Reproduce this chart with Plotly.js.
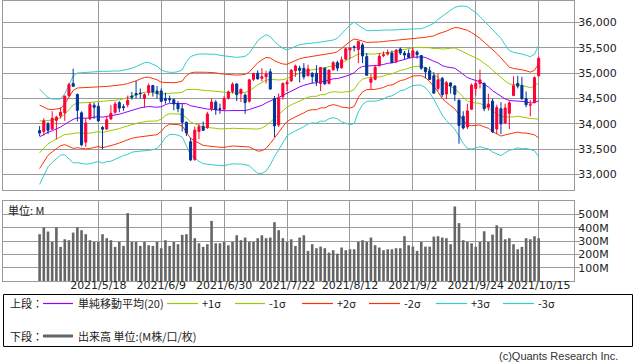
<!DOCTYPE html>
<html><head><meta charset="utf-8">
<script src="https://cdn.plot.ly/plotly-3.0.1.min.js"></script>
<style>html,body{margin:0;padding:0;background:#fff;}#chart{width:638px;height:362px;}</style>
</head><body><div id="chart"></div>
<script>
const dates = ["2021/4/28","2021/4/29","2021/4/30","2021/5/3","2021/5/4","2021/5/5","2021/5/6","2021/5/7","2021/5/10","2021/5/11","2021/5/12","2021/5/13","2021/5/14","2021/5/17","2021/5/18","2021/5/19","2021/5/20","2021/5/21","2021/5/24","2021/5/25","2021/5/26","2021/5/27","2021/5/28","2021/6/1","2021/6/2","2021/6/3","2021/6/4","2021/6/7","2021/6/8","2021/6/9","2021/6/10","2021/6/11","2021/6/14","2021/6/15","2021/6/16","2021/6/17","2021/6/18","2021/6/21","2021/6/22","2021/6/23","2021/6/24","2021/6/25","2021/6/28","2021/6/29","2021/6/30","2021/7/1","2021/7/2","2021/7/6","2021/7/7","2021/7/8","2021/7/9","2021/7/12","2021/7/13","2021/7/14","2021/7/15","2021/7/16","2021/7/19","2021/7/20","2021/7/21","2021/7/22","2021/7/23","2021/7/26","2021/7/27","2021/7/28","2021/7/29","2021/7/30","2021/8/2","2021/8/3","2021/8/4","2021/8/5","2021/8/6","2021/8/9","2021/8/10","2021/8/11","2021/8/12","2021/8/13","2021/8/16","2021/8/17","2021/8/18","2021/8/19","2021/8/20","2021/8/23","2021/8/24","2021/8/25","2021/8/26","2021/8/27","2021/8/30","2021/8/31","2021/9/1","2021/9/2","2021/9/3","2021/9/7","2021/9/8","2021/9/9","2021/9/10","2021/9/13","2021/9/14","2021/9/15","2021/9/16","2021/9/17","2021/9/20","2021/9/21","2021/9/22","2021/9/23","2021/9/24","2021/9/27","2021/9/28","2021/9/29","2021/9/30","2021/10/1","2021/10/4","2021/10/5","2021/10/6","2021/10/7","2021/10/8","2021/10/11","2021/10/12","2021/10/13","2021/10/14","2021/10/15"];

const openP = [33870,33850,34000,33900,34070,34160,34220,34560,34800,34580,34220,33640,34100,34370,34350,33930,33900,34100,34230,34420,34340,34380,34550,34600,34610,34500,34620,34760,34650,34650,34500,34500,34480,34400,34300,34030,33650,33300,33850,33950,33930,34300,34430,34300,34290,34510,34640,34790,34600,34570,34450,34880,35000,34900,34930,35030,34500,33980,34540,34790,34850,35050,35100,35100,34950,35000,35000,34800,35100,34800,35070,35210,35110,35280,35460,35520,35470,35560,35330,34820,34880,35150,35350,35380,35400,35230,35480,35400,35390,35330,35420,35350,35110,35050,34950,34700,34900,34590,34810,34750,34470,34150,33940,34290,34700,34800,34800,34330,34450,33900,34300,34020,34210,34560,34800,34760,34500,34370,34420,34950];
const highP = [33960,34110,34040,34250,34160,34330,34560,34810,35090,34600,34250,34120,34430,34420,34420,33960,34150,34370,34440,34450,34390,34560,34630,34850,34700,34610,34800,34770,34750,34700,34620,34560,34500,34450,34400,34050,33730,33950,34000,34050,34240,34500,34470,34400,34550,34660,34820,34800,34700,34600,34890,35010,35060,35100,35050,35090,34550,34600,34820,34870,35080,35170,35150,35200,35170,35020,35160,35120,35120,35070,35240,35250,35330,35500,35510,35550,35630,35600,35400,34990,35160,35400,35430,35470,35450,35480,35510,35440,35470,35510,35450,35360,35120,35130,35020,35000,34930,34850,34820,34760,34480,34250,34400,34800,34850,35070,34820,34600,34500,34380,34430,34400,34450,34940,34950,34930,34640,34470,34940,35330];
const lowP = [33760,33770,33800,33880,33700,34110,34060,34530,34730,34050,33560,33550,34080,34100,34040,33500,33880,34080,34200,34230,34260,34330,34480,34500,34500,34330,34560,34540,34500,34430,34400,34420,34270,34230,33850,33760,33270,33270,33700,33860,33900,34250,34180,34200,34270,34480,34600,34450,34430,34200,34420,34850,34880,34840,34800,34680,33740,33940,34480,34650,34830,34930,34820,34880,34940,34800,34750,34650,34770,34780,35050,35040,35090,35260,35280,35430,35200,35200,34950,34690,34860,35140,35320,35350,35200,35200,35360,35280,35300,35330,35290,35070,34900,34870,34600,34650,34530,34490,34600,34450,33610,33890,33900,34280,34560,34700,34250,34260,33820,33800,33800,34000,33900,34550,34700,34480,34330,34150,34410,34940];
const closeP = [33820,34060,33875,34113,34133,34230,34549,34778,34743,34269,33588,34021,34382,34328,34061,33896,34084,34208,34394,34312,34323,34465,34529,34575,34600,34577,34756,34630,34600,34447,34466,34480,34394,34299,34034,33823,33290,33877,33946,33874,34197,34434,34283,34292,34503,34634,34786,34577,34682,34422,34870,34996,34889,34933,34987,34688,33962,34512,34798,34823,35062,35144,35059,34931,35085,34935,34838,35116,34793,35064,35209,35102,35265,35485,35500,35515,35625,35343,34961,34894,35120,35336,35366,35406,35213,35456,35400,35361,35313,35444,35369,35100,35031,34879,34608,34870,34578,34814,34751,34585,33970,33920,34258,34765,34798,34869,34300,34391,33844,34326,34003,34315,34417,34755,34746,34496,34378,34378,34913,35295];
const volumeM = [351,401,371,293,403,256,313,306,363,403,381,351,306,293,293,351,321,306,256,293,263,509,293,293,263,293,268,263,293,246,306,263,293,276,346,351,556,321,283,256,276,451,283,283,293,268,293,343,306,326,293,293,321,343,321,326,441,381,321,293,313,263,326,343,226,276,246,258,246,213,231,205,251,231,238,238,293,306,293,326,268,251,231,238,238,246,246,336,268,258,226,293,258,258,333,336,326,321,276,559,434,306,293,283,256,293,373,293,348,418,396,313,321,276,238,256,321,313,336,321];
const sma20 = [33746,33800,33836,33865,33900,33939,33992,34041,34090,34120,34113,34112,34121,34134,34146,34134,34147,34155,34176,34192,34217,34238,34270,34293,34317,34334,34345,34337,34330,34339,34383,34406,34406,34405,34404,34400,34360,34344,34321,34299,34293,34291,34279,34265,34260,34263,34264,34262,34266,34265,34285,34311,34335,34367,34415,34458,34492,34523,34566,34613,34657,34692,34731,34763,34792,34807,34810,34837,34842,34874,34891,34896,34915,34943,34969,35010,35093,35135,35143,35146,35149,35159,35174,35198,35204,35230,35258,35271,35297,35316,35324,35324,35312,35282,35237,35205,35152,35126,35115,35100,35042,34972,34916,34884,34863,34834,34779,34731,34657,34601,34533,34494,34463,34457,34464,34445,34435,34413,34421,34457];
const sigma = [313,268,228,209,198,184,200,243,286,295,300,302,302,300,296,302,297,297,290,284,280,280,276,279,285,292,289,282,271,242,217,205,204,209,221,277,323,339,353,361,363,363,365,363,361,355,350,351,352,357,370,405,436,448,449,422,378,345,309,282,279,278,278,272,264,262,265,260,263,257,255,265,291,308,328,334,285,251,233,232,233,230,227,219,217,210,201,199,191,186,186,186,199,222,250,287,326,353,378,401,427,452,466,460,445,428,418,408,404,396,386,355,328,319,312,312,307,305,318,367];
const tickDates = ["2021/5/18","2021/6/9","2021/6/30","2021/7/22","2021/8/12","2021/9/2","2021/9/24","2021/10/15"];
const priceTicks = [33000,33500,34000,34500,35000,35500,36000];
const volTicks = [100,200,300,400,500];
const volTickText = ["100M","200M","300M","400M","500M"];

const band = k => sma20.map((m,i)=>m + k*sigma[i]);
const XR = [-8.73, 127.42];
const YR = [32696, 36427];
const GRID = '#9a9a9a';
const TF = {family:'DejaVu Sans, sans-serif', size:11, color:'#222'};

function line(y, color, name){
  return {type:'scatter', mode:'lines', x:dates, y:y, name:name, xaxis:'x', yaxis:'y',
          line:{color:color, width:1}, hoverinfo:'skip', showlegend:false};
}
const traces = [
  line(band(3), '#33cccc', '+3σ'), line(band(-3), '#33cccc', '-3σ'),
  line(band(2), '#ff3300', '+2σ'), line(band(-2), '#ff3300', '-2σ'),
  line(band(1), '#99cc00', '+1σ'), line(band(-1), '#99cc00', '-1σ'),
  line(sma20, '#9900ff', 'SMA20'),
  {type:'candlestick', x:dates, open:openP, high:highP, low:lowP, close:closeP,
   xaxis:'x3', yaxis:'y3', whiskerwidth:0, showlegend:false, hoverinfo:'skip',
   increasing:{line:{color:'#ff0033', width:1}, fillcolor:'#ff0033'},
   decreasing:{line:{color:'#003399', width:1}, fillcolor:'#003399'}},
  {type:'bar', x:dates, y:volumeM, xaxis:'x2', yaxis:'y2', marker:{color:'#666666'},
   width:0.62, showlegend:false, hoverinfo:'skip'}
];

const px = X => (X-3)/571;
const py = Y => (281-Y)/280;
const baseX = {type:'category', categoryorder:'array', categoryarray:dates, range:XR,
  tickvals:tickDates, ticktext:tickDates, showgrid:true, gridcolor:GRID, gridwidth:1,
  showline:true, mirror:true, linecolor:GRID, linewidth:1, ticks:'', zeroline:false,
  fixedrange:true, rangeslider:{visible:false}};

const shapes = [
  {type:'rect', xref:'paper', yref:'paper', x0:px(3.5), x1:px(632.5), y0:py(346.5), y1:py(294.5), line:{color:'#000', width:1}},
];
const legLines = [[43,73,'#9900ff'],[167,198,'#99cc00'],[235,265,'#99cc00'],[302,333,'#ff3300'],[369,400,'#ff3300'],[436,467,'#33cccc'],[503,534,'#33cccc']];
legLines.forEach(l=>shapes.push({type:'line', xref:'paper', yref:'paper', x0:px(l[0]), x1:px(l[1]), y0:py(303.5), y1:py(303.5), line:{color:l[2], width:1.2}}));
shapes.push({type:'line', xref:'paper', yref:'paper', x0:px(43), x1:px(73), y0:py(336), y1:py(336), line:{color:'#666666', width:3}});

const JF = {family:'Noto Sans CJK JP, sans-serif', size:11, color:'#222'};
function ann(text, X, Y, font, anchor){
  return {text:text, xref:'paper', yref:'paper', x:px(X), y:py(Y), xanchor:anchor||'left', yanchor:'middle', showarrow:false, font:font||JF};
}
const annotations = [
  ann('単位: M', 6, 210),
  ann('上段：', 8, 303), ann('単純移動平均(20)', 76, 303), ann('+1σ', 200, 303), ann('-1σ', 267, 303),
  ann('+2σ', 335, 303), ann('-2σ', 402, 303), ann('+3σ', 469, 303), ann('-3σ', 536, 303),
  ann('下段：', 8, 336), ann('出来高 単位:(M株/口/枚)', 76, 336),
  ann('(c)Quants Research Inc.', 620, 356, {family:'Liberation Sans, Arial, sans-serif', size:11, color:'#333'}, 'right')
];

const layout = {
  width:638, height:362, margin:{l:3, r:64, t:1, b:81}, paper_bgcolor:'#fff', plot_bgcolor:'#fff',
  showlegend:false, hovermode:false, dragmode:false,
  xaxis: Object.assign({}, baseX, {anchor:'y', domain:[0,1], showticklabels:false}),
  xaxis3: Object.assign({}, baseX, {overlaying:'x', anchor:'y3', visible:false, showgrid:false, showline:false}),
  xaxis2: Object.assign({}, baseX, {anchor:'y2', domain:[0,1], showticklabels:true, tickfont:TF, ticklabelstandoff:-6}),
  yaxis: {domain:[0.325,1], anchor:'x', side:'right', range:YR, tickvals:priceTicks, tickformat:',d',
    ticks:'outside', ticklen:5, tickcolor:GRID, showgrid:true, gridcolor:GRID, showline:true, mirror:true,
    linecolor:GRID, zeroline:false, tickfont:TF, fixedrange:true, ticklabelstandoff:-4},
  yaxis3: {overlaying:'y', anchor:'x3', side:'right', range:YR, visible:false, showgrid:false, zeroline:false, fixedrange:true},
  yaxis2: {domain:[0,0.2857], anchor:'x2', side:'right', range:[0,600], tickvals:volTicks, ticktext:volTickText,
    ticks:'outside', ticklen:5, tickcolor:GRID, showgrid:true, gridcolor:GRID, showline:true, mirror:true,
    linecolor:GRID, zeroline:false, tickfont:TF, fixedrange:true, ticklabelstandoff:-4},
  shapes:shapes, annotations:annotations
};
Plotly.newPlot('chart', traces, layout, {staticPlot:true, displayModeBar:false});
</script></body></html>
